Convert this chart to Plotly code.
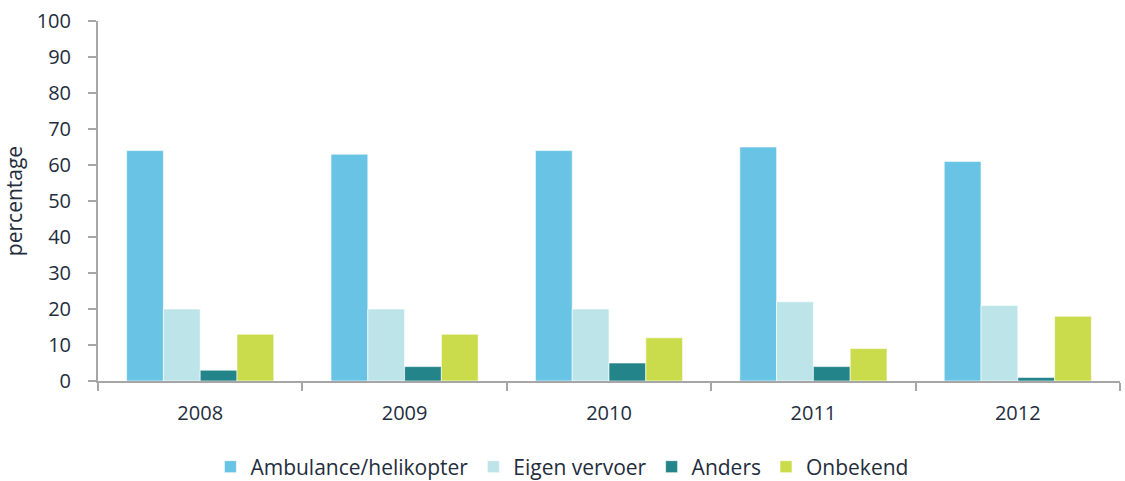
import plotly.graph_objects as go

years = ["2008", "2009", "2010", "2011", "2012"]
series_names = ["Ambulance/helikopter", "Eigen vervoer", "Anders", "Onbekend"]
ambulance = [64, 63, 64, 65, 61]
eigen = [20, 20, 20, 22, 21]
anders = [3, 4, 5, 4, 1]
onbekend = [13, 13, 12, 9, 18]
y_ticks = [0, 10, 20, 30, 40, 50, 60, 70, 80, 90, 100]

colors = ["#68C3E4", "#BDE5E9", "#23848A", "#CADC4C"]
values = [ambulance, eigen, anders, onbekend]

font_family = "Open Sans, Lato, sans-serif"
text_color = "#1F2D3D"

fig = go.Figure()
for name, vals, col in zip(series_names, values, colors):
    fig.add_trace(go.Bar(
        x=years, y=vals, name=name,
        marker=dict(color=col, line=dict(color="rgba(255,255,255,0.6)", width=1)),
    ))

fig.update_layout(
    width=1125, height=481,
    margin=dict(l=98, r=5, t=21, b=100, autoexpand=False),
    paper_bgcolor="white", plot_bgcolor="white",
    barmode="group", bargap=0.28, bargroupgap=0,
    font=dict(family=font_family, color=text_color, size=20),
    showlegend=True,
    legend=dict(orientation="h", x=0.11, xanchor="left", y=-0.182, yanchor="top",
                font=dict(size=21, color=text_color), traceorder="normal",
                itemwidth=30),
)
fig.update_xaxes(
    type="category", showline=True, linecolor="#A6A6A6", linewidth=2,
    ticks="outside", tickson="boundaries", ticklen=8, tickcolor="#A6A6A6", tickwidth=2,
    ticklabelstandoff=13, tickfont=dict(size=20, color=text_color),
    showgrid=False, zeroline=False, automargin=False,
)
fig.update_yaxes(
    range=[0, 100], tickvals=y_ticks, showline=True, linecolor="#A6A6A6", linewidth=2,
    ticks="outside", ticklen=8, tickcolor="#A6A6A6", tickwidth=2,
    ticklabelstandoff=13,
    tickfont=dict(size=20, color=text_color), showgrid=False, zeroline=False,
    title=dict(text="percentage", font=dict(size=21, color=text_color), standoff=8),
    automargin=False,
)

fig.write_html("out.html", config={"displayModeBar": False},
               post_script="document.body.style.margin='0';")
